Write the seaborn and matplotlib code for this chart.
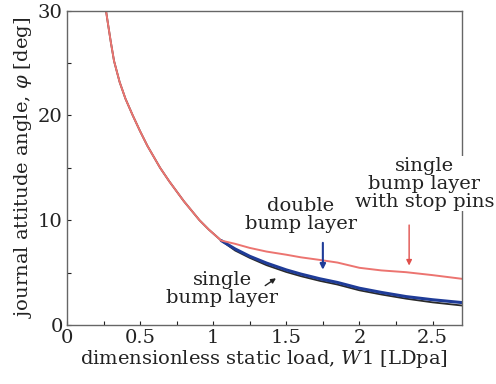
import pandas as pd
import matplotlib
matplotlib.use("Agg")
import matplotlib.pyplot as plt
from matplotlib.ticker import MultipleLocator, FuncFormatter
import seaborn as sns

# 共同的初始段 (三条曲线重合)
x_common = [0.267, 0.28, 0.30, 0.322, 0.36, 0.40, 0.45, 0.50, 0.55, 0.637,
            0.70, 0.80, 0.906, 0.97, 1.055]
y_common = [30.0, 28.8, 27.0, 25.2, 23.2, 21.6, 20.0, 18.5, 17.1, 15.0,
            13.7, 11.8, 10.0, 9.1, 8.05]

# 1.055 之后三条曲线分开
x_tail = [1.15, 1.25, 1.365, 1.5, 1.6, 1.73, 1.85, 2.0, 2.15, 2.32, 2.5, 2.7]
y_single = [7.1, 6.4, 5.7, 5.05, 4.65, 4.2, 3.85, 3.3, 2.9, 2.5, 2.15, 1.85]
y_double = [7.25, 6.55, 5.9, 5.25, 4.85, 4.4, 4.05, 3.5, 3.1, 2.7, 2.4, 2.13]
y_pins = [7.74, 7.35, 7.0, 6.7, 6.45, 6.2, 5.95, 5.45, 5.2, 5.03, 4.75, 4.4]

df_single = pd.DataFrame({"W1": x_common + x_tail, "phi": y_common + y_single})
df_double = pd.DataFrame({"W1": x_common[-1:] + x_tail, "phi": y_common[-1:] + y_double})
df_pins = pd.DataFrame({"W1": x_common + x_tail, "phi": y_common + y_pins})

sns.set_style("ticks")
plt.rcParams["font.family"] = ["DejaVu Serif"]
plt.rcParams["mathtext.fontset"] = "dejavuserif"

fig = plt.figure(figsize=(4.96, 3.84), dpi=100)
ax = fig.add_axes([0.135, 0.154, 0.796, 0.818])

sns.lineplot(data=df_single, x="W1", y="phi", ax=ax, color="#2a2a2a", lw=1.3, sort=False)
sns.lineplot(data=df_double, x="W1", y="phi", ax=ax, color="#1f3c98", lw=2.2, sort=False)
sns.lineplot(data=df_pins, x="W1", y="phi", ax=ax, color="#ec7470", lw=1.4, sort=False)

ax.set_xlim(0, 2.7)
ax.set_ylim(0, 30)
ax.xaxis.set_major_locator(MultipleLocator(0.5))
ax.xaxis.set_minor_locator(MultipleLocator(0.25))
ax.yaxis.set_major_locator(MultipleLocator(10))
ax.yaxis.set_minor_locator(MultipleLocator(5))
ax.xaxis.set_major_formatter(FuncFormatter(lambda v, p: f"{v:g}"))
ax.tick_params(which="both", direction="in", labelsize=14, colors="#222222",
               length=3, width=0.8, pad=3)
for s in ax.spines.values():
    s.set_visible(True)
    s.set_color("#666666")
    s.set_linewidth(1.0)

ax.set_xlabel(r"dimensionless static load, $W$1 [LDpa]", fontsize=14, color="#222222", labelpad=1)
ax.set_ylabel(r"journal attitude angle, $\varphi$ [deg]", fontsize=14, color="#222222", labelpad=3)

txt = dict(fontsize=14, color="#222222", ha="center", va="center", linespacing=1.0)
ax.text(2.445, 13.5, "single\nbump layer\nwith stop pins", clip_on=False,
        bbox=dict(facecolor="white", edgecolor="none", pad=0.5), **txt)
ax.text(1.6, 10.5, "double\nbump layer", **txt)
ax.text(1.06, 3.4, "single\nbump layer", **txt)

ax.annotate("", xy=(2.34, 5.4), xytext=(2.34, 9.8),
            arrowprops=dict(arrowstyle="-|>", color="#e0504c", lw=1.0, mutation_scale=8))
ax.annotate("", xy=(1.75, 5.0), xytext=(1.75, 8.1),
            arrowprops=dict(arrowstyle="-|>", color="#1f3c98", lw=1.5, mutation_scale=8))
ax.annotate("", xy=(1.445, 4.6), xytext=(1.34, 3.6),
            arrowprops=dict(arrowstyle="-|>", color="#222222", lw=1.0, mutation_scale=7))

fig.savefig("out.png", dpi=100)
